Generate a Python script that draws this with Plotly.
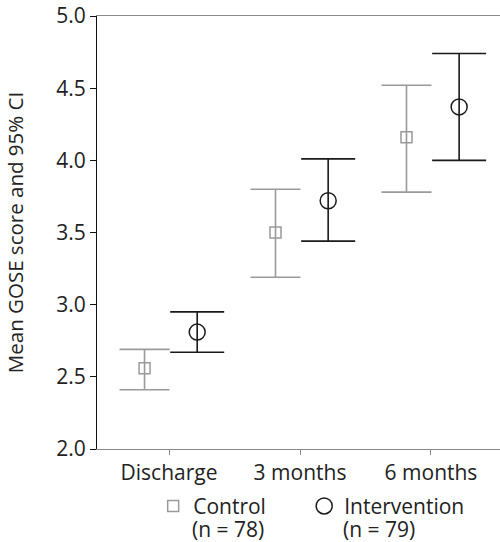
import plotly.graph_objects as go

categories = ["Discharge", "3 months", "6 months"]
control_mean = [2.56, 3.50, 4.16]
control_lo = [2.41, 3.19, 3.78]
control_hi = [2.69, 3.80, 4.52]
interv_mean = [2.81, 3.72, 4.37]
interv_lo = [2.67, 3.44, 4.00]
interv_hi = [2.95, 4.01, 4.74]
group_names = ["Control", "Intervention"]
group_n = ["(n = 78)", "(n = 79)"]
y_ticks = [2.0, 2.5, 3.0, 3.5, 4.0, 4.5, 5.0]

FONT = "Open Sans"
TXT = "#222222"
GRAY = "#9a9a9a"
DARK = "#1a1a1a"
FS = 21

idx = list(range(len(categories)))
off_c, off_i = -0.187, 0.215

fig = go.Figure()
fig.add_trace(go.Scatter(
    x=[i + off_c for i in idx], y=control_mean, mode="markers",
    name=group_names[0], legend="legend",
    marker=dict(symbol="square-open", size=11, color=GRAY, line=dict(width=1.5, color=GRAY)),
    error_y=dict(type="data", symmetric=False,
                 array=[h - m for h, m in zip(control_hi, control_mean)],
                 arrayminus=[m - l for m, l in zip(control_mean, control_lo)],
                 color=GRAY, thickness=1.6, width=25),
))
fig.add_trace(go.Scatter(
    x=[i + off_i for i in idx], y=interv_mean, mode="markers",
    name=group_names[1], legend="legend2",
    marker=dict(symbol="circle-open", size=16, color=DARK, line=dict(width=1.5, color=DARK)),
    error_y=dict(type="data", symmetric=False,
                 array=[h - m for h, m in zip(interv_hi, interv_mean)],
                 arrayminus=[m - l for m, l in zip(interv_mean, interv_lo)],
                 color=DARK, thickness=1.6, width=27),
))

# sample-size lines under each legend entry
n_x = [0.2318, 0.6058]
for xp, txt in zip(n_x, group_n):
    fig.add_annotation(text=txt, xref="paper", yref="paper", x=xp, y=-0.184,
                       xanchor="left", yanchor="middle", showarrow=False,
                       font=dict(family=FONT, size=FS, color=TXT))

leg_common = dict(orientation="h", y=-0.085, xanchor="left", yanchor="top",
                  font=dict(family=FONT, size=FS, color=TXT), valign="middle",
                  itemsizing="trace", bgcolor="rgba(0,0,0,0)")

fig.update_layout(
    width=500, height=542,
    margin=dict(l=97, r=0, t=16, b=93, autoexpand=False),
    paper_bgcolor="white", plot_bgcolor="white",
    font=dict(family=FONT, size=FS, color=TXT),
    showlegend=True,
    legend=dict(x=0.1394, **leg_common),
    legend2=dict(x=0.5141, **leg_common),
    xaxis=dict(range=[-0.55, 2.527], tickmode="array", tickvals=idx, ticktext=categories,
               showgrid=False, zeroline=False, showline=True, linecolor="#8a8a8a", linewidth=1.2,
               mirror=True, ticks="outside", ticklen=5, tickcolor="#8a8a8a", tickwidth=1,
               tickfont=dict(family=FONT, size=FS, color=TXT)),
    yaxis=dict(range=[2.0, 5.0], tickmode="array", tickvals=y_ticks,
               ticktext=[f"{v:.1f}" for v in y_ticks],
               showgrid=False, zeroline=False, showline=True, linecolor="#111111", linewidth=1.2,
               ticks="outside", ticklen=6, tickcolor="#111111", tickwidth=1,
               tickfont=dict(family=FONT, size=FS, color=TXT),
               title=dict(text="Mean GOSE score and 95% CI", standoff=26,
                          font=dict(family=FONT, size=20.5, color=TXT))),
)

fig.write_html("out.html", config={"displayModeBar": False},
               post_script="document.body.style.margin='0';")
